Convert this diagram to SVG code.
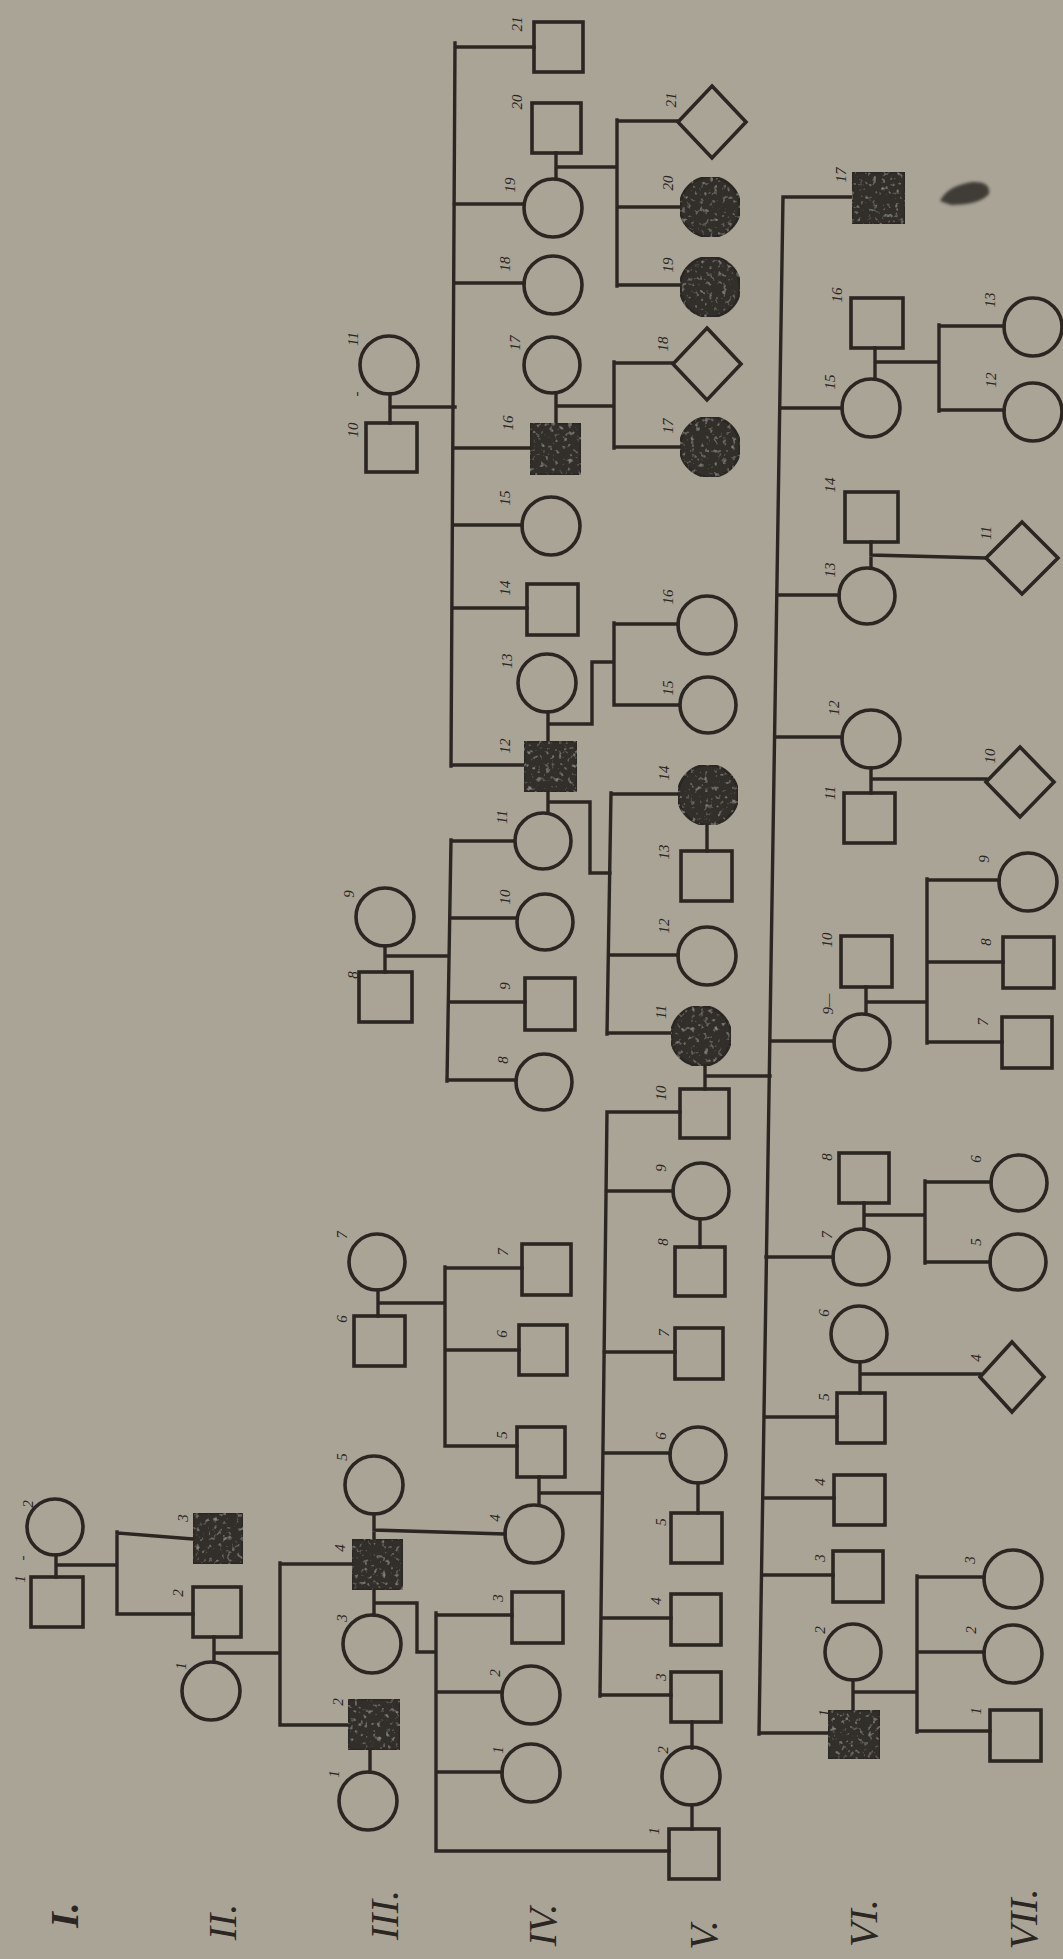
<svg xmlns="http://www.w3.org/2000/svg" width="1063" height="1959" viewBox="0 0 1063 1959">
<style>
.ln{fill:none;stroke:#2b2622;stroke-width:3.4;stroke-linecap:square}
.o{fill:none;stroke:#2b2622;stroke-width:3.6}
.f{fill:#332e2b;stroke:#2b2622;stroke-width:2.5;filter:url(#mottle)}
.lb{font-family:"Liberation Serif",serif;font-style:italic;font-size:15px;fill:#2b2622;text-anchor:middle;dominant-baseline:central}
.gl{font-family:"Liberation Serif",serif;font-style:italic;font-size:40px;fill:#2b2622;text-anchor:middle;dominant-baseline:central}
</style>
<defs>
<filter id="mottle" x="0" y="0" width="100%" height="100%">
<feTurbulence type="fractalNoise" baseFrequency="0.22" numOctaves="2" seed="4" result="n"/>
<feColorMatrix in="n" type="matrix" values="0 0 0 0 0.45 0 0 0 0 0.43 0 0 0 0 0.40 0 0 0 1.8 -1.05" result="s"/>
<feComposite in="s" in2="SourceGraphic" operator="in" result="si"/>
<feMerge><feMergeNode in="SourceGraphic"/><feMergeNode in="si"/></feMerge>
</filter>
<filter id="blur"><feGaussianBlur stdDeviation="1.4"/></filter>
</defs>
<rect x="0" y="0" width="1063" height="1959" fill="#aaa497"/>

<g id="connectors" class="ln">
<path d="M56 1555V1577M56 1565H117M117 1532V1614M117 1533L193 1539M117 1614H193"/>
<path d="M214 1637V1662M214 1653H280M280 1563V1725M280 1564H352M280 1725H348M370 1750V1772"/>
<path d="M374 1514V1539M374 1530L505 1534M374 1590V1615M374 1603H417V1652H436M436 1613V1851M436 1615H512M436 1692H502M436 1772H502M436 1851H669"/>
<path d="M539 1477V1505M539 1493H602M607 1112L600 1696M607 1112H680M606 1191H673M604 1352H675M603 1453H670M601 1618H671M600 1695H671"/>
<path d="M692 1722V1748M692 1805V1829M698 1483V1513M700 1219V1247M705 1066V1089M705 1076H770M707 825V851"/>
<path d="M378 1290V1316M378 1303H444M445 1267V1446M445 1268H522M445 1350H519M445 1446H517"/>
<path d="M385 946V972M385 956H449M451 840L447 1081M451 841H514M450 918H517M449 1002H525M447 1080H516"/>
<path d="M390 394V423M390 407H455M455 43L451 766M455 47H534M454 204H524M454 283H524M454 448H530M453 525H522M453 608H527M451 765H524"/>
<path d="M556 153V179M556 167H617M617 120V286M617 121H678M617 207H680M617 285H680"/>
<path d="M556 393V423M556 406H614M614 362V448M614 363H673M614 447H680"/>
<path d="M548 712V741M548 724H592V662H614M614 623V705M614 624H678M614 705H679"/>
<path d="M548 792V813M548 802H590V873H610M611 793L607 1034M611 794H678M609 955H678M607 1033H671"/>
<path d="M783 197L759 1734M783 197H852M780 408H842M777 595H839M775 737H842M770 1041H834M766 1257H833M764 1417H837M763 1498H834M762 1575H833M759 1733H828"/>
<path d="M875 348V379M875 362H939M939 325V411M939 326H1004M939 410H1004"/>
<path d="M871 542V568M871 555L986 558M871 768V793M871 779H986"/>
<path d="M866 987V1014M866 1002H927M927 879V1043M927 880H999M927 962H1003M927 1042H1002"/>
<path d="M864 1203V1229M864 1215H925M925 1181V1263M925 1182H991M925 1262H990"/>
<path d="M860 1362V1393M860 1374H980"/>
<path d="M853 1680V1710M853 1692H917M917 1576V1732M917 1577H984M917 1652H984M917 1731H990"/>
</g>

<g id="gen-I">
<g id="I-1"><rect class="o" x="31" y="1577" width="52" height="50"/><text class="lb" x="20" y="1579" transform="rotate(-90 20 1579)">1</text><text class="lb" x="22" y="1558" transform="rotate(-90 22 1558)">-</text></g>
<g id="I-2"><circle class="o" cx="55" cy="1527" r="28"/><text class="lb" x="28" y="1504" transform="rotate(-90 28 1504)">2</text></g>
</g>

<g id="gen-II">
<g id="II-1"><circle class="o" cx="211" cy="1691" r="29"/><text class="lb" x="181" y="1666" transform="rotate(-90 181 1666)">1</text></g>
<g id="II-2"><rect class="o" x="193" y="1587" width="48" height="50"/><text class="lb" x="178" y="1593" transform="rotate(-90 178 1593)">2</text></g>
<g id="II-3"><rect class="f" x="193" y="1513" width="50" height="51"/><text class="lb" x="183" y="1518" transform="rotate(-90 183 1518)">3</text></g>
</g>

<g id="gen-III">
<g id="III-1"><circle class="o" cx="368" cy="1801" r="29"/><text class="lb" x="334" y="1774" transform="rotate(-90 334 1774)">1</text></g>
<g id="III-2"><rect class="f" x="348" y="1699" width="52" height="51"/><text class="lb" x="338" y="1702" transform="rotate(-90 338 1702)">2</text></g>
<g id="III-3"><circle class="o" cx="372" cy="1644" r="29"/><text class="lb" x="342" y="1618" transform="rotate(-90 342 1618)">3</text></g>
<g id="III-4"><rect class="f" x="352" y="1539" width="51" height="51"/><text class="lb" x="340" y="1548" transform="rotate(-90 340 1548)">4</text></g>
<g id="III-5"><circle class="o" cx="374" cy="1485" r="29"/><text class="lb" x="342" y="1457" transform="rotate(-90 342 1457)">5</text></g>
<g id="III-6"><rect class="o" x="354" y="1316" width="51" height="50"/><text class="lb" x="342" y="1319" transform="rotate(-90 342 1319)">6</text></g>
<g id="III-7"><circle class="o" cx="377" cy="1262" r="28"/><text class="lb" x="342" y="1235" transform="rotate(-90 342 1235)">7</text></g>
<g id="III-8"><rect class="o" x="359" y="972" width="53" height="50"/><text class="lb" x="353" y="975" transform="rotate(-90 353 975)">8</text></g>
<g id="III-9"><circle class="o" cx="385" cy="917" r="29"/><text class="lb" x="349" y="894" transform="rotate(-90 349 894)">9</text></g>
<g id="III-10"><rect class="o" x="366" y="423" width="51" height="49"/><text class="lb" x="353" y="430" transform="rotate(-90 353 430)">10</text><text class="lb" x="356" y="394" transform="rotate(-90 356 394)">-</text></g>
<g id="III-11"><circle class="o" cx="389" cy="365" r="29"/><text class="lb" x="353" y="339" transform="rotate(-90 353 339)">11</text></g>
</g>

<g id="gen-IV">
<g id="IV-1"><circle class="o" cx="531" cy="1773" r="29"/><text class="lb" x="498" y="1750" transform="rotate(-90 498 1750)">1</text></g>
<g id="IV-2"><circle class="o" cx="531" cy="1695" r="29"/><text class="lb" x="495" y="1673" transform="rotate(-90 495 1673)">2</text></g>
<g id="IV-3"><rect class="o" x="512" y="1592" width="51" height="51"/><text class="lb" x="498" y="1598" transform="rotate(-90 498 1598)">3</text></g>
<g id="IV-4"><circle class="o" cx="534" cy="1534" r="29"/><text class="lb" x="495" y="1518" transform="rotate(-90 495 1518)">4</text></g>
<g id="IV-5"><rect class="o" x="517" y="1427" width="48" height="50"/><text class="lb" x="502" y="1435" transform="rotate(-90 502 1435)">5</text></g>
<g id="IV-6"><rect class="o" x="519" y="1325" width="48" height="50"/><text class="lb" x="502" y="1334" transform="rotate(-90 502 1334)">6</text></g>
<g id="IV-7"><rect class="o" x="522" y="1244" width="49" height="51"/><text class="lb" x="503" y="1252" transform="rotate(-90 503 1252)">7</text></g>
<g id="IV-8"><circle class="o" cx="544" cy="1082" r="28"/><text class="lb" x="503" y="1060" transform="rotate(-90 503 1060)">8</text></g>
<g id="IV-9"><rect class="o" x="525" y="978" width="50" height="52"/><text class="lb" x="505" y="986" transform="rotate(-90 505 986)">9</text></g>
<g id="IV-10"><circle class="o" cx="545" cy="922" r="28"/><text class="lb" x="505" y="897" transform="rotate(-90 505 897)">10</text></g>
<g id="IV-11"><circle class="o" cx="543" cy="841" r="28"/><text class="lb" x="502" y="817" transform="rotate(-90 502 817)">11</text></g>
<g id="IV-12"><rect class="f" x="524" y="741" width="53" height="51"/><text class="lb" x="505" y="746" transform="rotate(-90 505 746)">12</text></g>
<g id="IV-13"><circle class="o" cx="547" cy="683" r="29"/><text class="lb" x="507" y="661" transform="rotate(-90 507 661)">13</text></g>
<g id="IV-14"><rect class="o" x="527" y="584" width="51" height="51"/><text class="lb" x="505" y="588" transform="rotate(-90 505 588)">14</text></g>
<g id="IV-15"><circle class="o" cx="551" cy="526" r="29"/><text class="lb" x="505" y="498" transform="rotate(-90 505 498)">15</text></g>
<g id="IV-16"><rect class="f" x="530" y="423" width="51" height="52"/><text class="lb" x="508" y="423" transform="rotate(-90 508 423)">16</text></g>
<g id="IV-17"><circle class="o" cx="552" cy="365" r="28"/><text class="lb" x="515" y="343" transform="rotate(-90 515 343)">17</text></g>
<g id="IV-18"><circle class="o" cx="553" cy="285" r="29"/><text class="lb" x="505" y="264" transform="rotate(-90 505 264)">18</text></g>
<g id="IV-19"><circle class="o" cx="553" cy="208" r="29"/><text class="lb" x="510" y="185" transform="rotate(-90 510 185)">19</text></g>
<g id="IV-20"><rect class="o" x="532" y="103" width="49" height="50"/><text class="lb" x="517" y="102" transform="rotate(-90 517 102)">20</text></g>
<g id="IV-21"><rect class="o" x="534" y="22" width="49" height="50"/><text class="lb" x="517" y="24" transform="rotate(-90 517 24)">21</text></g>
</g>

<g id="gen-V">
<g id="V-1"><rect class="o" x="669" y="1829" width="50" height="50"/><text class="lb" x="654" y="1831" transform="rotate(-90 654 1831)">1</text></g>
<g id="V-2"><circle class="o" cx="691" cy="1776" r="29"/><text class="lb" x="663" y="1750" transform="rotate(-90 663 1750)">2</text></g>
<g id="V-3"><rect class="o" x="671" y="1672" width="50" height="50"/><text class="lb" x="661" y="1677" transform="rotate(-90 661 1677)">3</text></g>
<g id="V-4"><rect class="o" x="671" y="1594" width="50" height="51"/><text class="lb" x="656" y="1601" transform="rotate(-90 656 1601)">4</text></g>
<g id="V-5"><rect class="o" x="671" y="1513" width="51" height="50"/><text class="lb" x="661" y="1522" transform="rotate(-90 661 1522)">5</text></g>
<g id="V-6"><circle class="o" cx="698" cy="1455" r="28"/><text class="lb" x="661" y="1436" transform="rotate(-90 661 1436)">6</text></g>
<g id="V-7"><rect class="o" x="675" y="1328" width="48" height="51"/><text class="lb" x="664" y="1333" transform="rotate(-90 664 1333)">7</text></g>
<g id="V-8"><rect class="o" x="675" y="1247" width="50" height="49"/><text class="lb" x="663" y="1242" transform="rotate(-90 663 1242)">8</text></g>
<g id="V-9"><circle class="o" cx="701" cy="1191" r="28"/><text class="lb" x="661" y="1168" transform="rotate(-90 661 1168)">9</text></g>
<g id="V-10"><rect class="o" x="680" y="1089" width="49" height="49"/><text class="lb" x="661" y="1093" transform="rotate(-90 661 1093)">10</text></g>
<g id="V-11"><circle class="f" cx="701" cy="1036" r="30"/><text class="lb" x="661" y="1012" transform="rotate(-90 661 1012)">11</text></g>
<g id="V-12"><circle class="o" cx="707" cy="956" r="29"/><text class="lb" x="664" y="926" transform="rotate(-90 664 926)">12</text></g>
<g id="V-13"><rect class="o" x="681" y="851" width="51" height="50"/><text class="lb" x="664" y="852" transform="rotate(-90 664 852)">13</text></g>
<g id="V-14"><circle class="f" cx="708" cy="795" r="30"/><text class="lb" x="664" y="773" transform="rotate(-90 664 773)">14</text></g>
<g id="V-15"><circle class="o" cx="708" cy="705" r="28"/><text class="lb" x="668" y="688" transform="rotate(-90 668 688)">15</text></g>
<g id="V-16"><circle class="o" cx="707" cy="625" r="29"/><text class="lb" x="668" y="597" transform="rotate(-90 668 597)">16</text></g>
<g id="V-17"><circle class="f" cx="710" cy="447" r="30"/><text class="lb" x="668" y="426" transform="rotate(-90 668 426)">17</text></g>
<g id="V-18"><path class="o" d="M707 328L741 364L707 400L673 364Z"/><text class="lb" x="663" y="344" transform="rotate(-90 663 344)">18</text></g>
<g id="V-19"><circle class="f" cx="710" cy="287" r="30"/><text class="lb" x="668" y="265" transform="rotate(-90 668 265)">19</text></g>
<g id="V-20"><circle class="f" cx="710" cy="207" r="30"/><text class="lb" x="668" y="183" transform="rotate(-90 668 183)">20</text></g>
<g id="V-21"><path class="o" d="M712 86L746 122L712 158L678 122Z"/><text class="lb" x="671" y="100" transform="rotate(-90 671 100)">21</text></g>
</g>

<g id="gen-VI">
<g id="VI-1"><rect class="f" x="828" y="1710" width="52" height="49"/><text class="lb" x="824" y="1713" transform="rotate(-90 824 1713)">1</text></g>
<g id="VI-2"><circle class="o" cx="853" cy="1652" r="28"/><text class="lb" x="820" y="1630" transform="rotate(-90 820 1630)">2</text></g>
<g id="VI-3"><rect class="o" x="833" y="1551" width="50" height="51"/><text class="lb" x="820" y="1558" transform="rotate(-90 820 1558)">3</text></g>
<g id="VI-4"><rect class="o" x="834" y="1475" width="51" height="50"/><text class="lb" x="820" y="1482" transform="rotate(-90 820 1482)">4</text></g>
<g id="VI-5"><rect class="o" x="837" y="1393" width="48" height="50"/><text class="lb" x="824" y="1397" transform="rotate(-90 824 1397)">5</text></g>
<g id="VI-6"><circle class="o" cx="859" cy="1334" r="28"/><text class="lb" x="824" y="1313" transform="rotate(-90 824 1313)">6</text></g>
<g id="VI-7"><circle class="o" cx="861" cy="1257" r="28"/><text class="lb" x="827" y="1235" transform="rotate(-90 827 1235)">7</text></g>
<g id="VI-8"><rect class="o" x="839" y="1153" width="50" height="50"/><text class="lb" x="827" y="1157" transform="rotate(-90 827 1157)">8</text></g>
<g id="VI-9"><circle class="o" cx="862" cy="1042" r="28"/><text class="lb" x="828" y="1004" transform="rotate(-90 828 1004)">9—</text></g>
<g id="VI-10"><rect class="o" x="841" y="936" width="51" height="51"/><text class="lb" x="827" y="940" transform="rotate(-90 827 940)">10</text></g>
<g id="VI-11"><rect class="o" x="844" y="793" width="51" height="50"/><text class="lb" x="830" y="793" transform="rotate(-90 830 793)">11</text></g>
<g id="VI-12"><circle class="o" cx="871" cy="739" r="29"/><text class="lb" x="834" y="708" transform="rotate(-90 834 708)">12</text></g>
<g id="VI-13"><circle class="o" cx="867" cy="596" r="28"/><text class="lb" x="830" y="570" transform="rotate(-90 830 570)">13</text></g>
<g id="VI-14"><rect class="o" x="845" y="492" width="53" height="50"/><text class="lb" x="830" y="485" transform="rotate(-90 830 485)">14</text></g>
<g id="VI-15"><circle class="o" cx="871" cy="408" r="29"/><text class="lb" x="830" y="382" transform="rotate(-90 830 382)">15</text></g>
<g id="VI-16"><rect class="o" x="851" y="298" width="52" height="50"/><text class="lb" x="837" y="295" transform="rotate(-90 837 295)">16</text></g>
<g id="VI-17"><rect class="f" x="852" y="172" width="53" height="52"/><text class="lb" x="841" y="175" transform="rotate(-90 841 175)">17</text></g>
</g>

<g id="gen-VII">
<g id="VII-1"><rect class="o" x="990" y="1710" width="51" height="51"/><text class="lb" x="976" y="1711" transform="rotate(-90 976 1711)">1</text></g>
<g id="VII-2"><circle class="o" cx="1013" cy="1654" r="29"/><text class="lb" x="971" y="1630" transform="rotate(-90 971 1630)">2</text></g>
<g id="VII-3"><circle class="o" cx="1013" cy="1579" r="29"/><text class="lb" x="970" y="1560" transform="rotate(-90 970 1560)">3</text></g>
<g id="VII-4"><path class="o" d="M1012 1342L1044 1377L1012 1412L980 1377Z"/><text class="lb" x="976" y="1358" transform="rotate(-90 976 1358)">4</text></g>
<g id="VII-5"><circle class="o" cx="1018" cy="1262" r="28"/><text class="lb" x="976" y="1242" transform="rotate(-90 976 1242)">5</text></g>
<g id="VII-6"><circle class="o" cx="1019" cy="1183" r="28"/><text class="lb" x="976" y="1159" transform="rotate(-90 976 1159)">6</text></g>
<g id="VII-7"><rect class="o" x="1002" y="1017" width="50" height="51"/><text class="lb" x="983" y="1022" transform="rotate(-90 983 1022)">7</text></g>
<g id="VII-8"><rect class="o" x="1003" y="937" width="51" height="51"/><text class="lb" x="986" y="942" transform="rotate(-90 986 942)">8</text></g>
<g id="VII-9"><circle class="o" cx="1028" cy="882" r="29"/><text class="lb" x="984" y="859" transform="rotate(-90 984 859)">9</text></g>
<g id="VII-10"><path class="o" d="M1020 747L1054 782L1020 817L986 782Z"/><text class="lb" x="990" y="756" transform="rotate(-90 990 756)">10</text></g>
<g id="VII-11"><path class="o" d="M1022 522L1058 558L1022 594L986 558Z"/><text class="lb" x="986" y="533" transform="rotate(-90 986 533)">11</text></g>
<g id="VII-12"><circle class="o" cx="1033" cy="412" r="29"/><text class="lb" x="991" y="380" transform="rotate(-90 991 380)">12</text></g>
<g id="VII-13"><circle class="o" cx="1033" cy="327" r="29"/><text class="lb" x="990" y="300" transform="rotate(-90 990 300)">13</text></g>
</g>

<g id="smudge"><path d="M940 201Q947 186 972 182Q991 181 989 194Q979 205 951 205Z" fill="#2f2a27" opacity="0.85" filter="url(#blur)"/></g>

<g id="generation-labels">
<text class="gl" x="64" y="1915" font-weight="bold" transform="rotate(-90 64 1915)">I.</text>
<text class="gl" x="222" y="1922" transform="rotate(-90 222 1922)">II.</text>
<text class="gl" x="384" y="1915" transform="rotate(-90 384 1915)">III.</text>
<text class="gl" x="542" y="1925" transform="rotate(-90 542 1925)">IV.</text>
<text class="gl" x="703" y="1935" transform="rotate(-90 703 1935)">V.</text>
<text class="gl" x="863" y="1923" transform="rotate(-90 863 1923)">VI.</text>
<text class="gl" x="1023" y="1919" transform="rotate(-90 1023 1919)">VII.</text>
</g>
</svg>
